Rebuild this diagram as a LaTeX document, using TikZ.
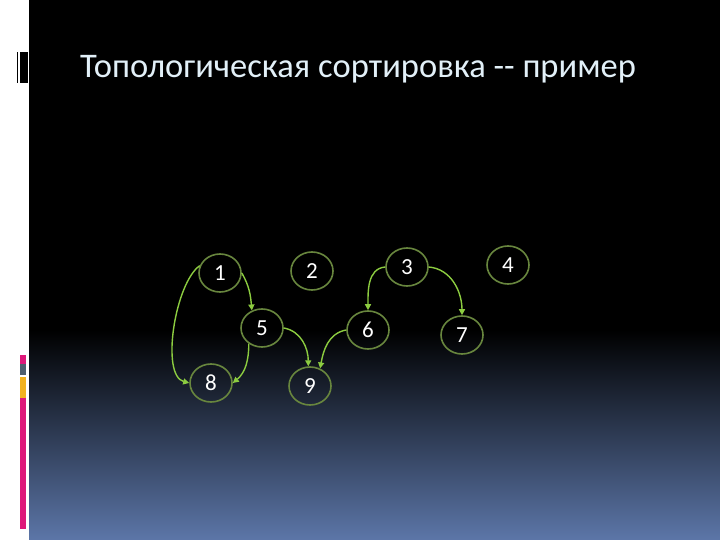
\documentclass[tikz,border=0pt]{standalone}
\usepackage{fontspec}
\setmainfont{Carlito}
\usepackage{xcolor}
\usepackage{tikz}
\usetikzlibrary{arrows.meta,shapes.geometric}

\definecolor{slideblue}{RGB}{92,118,168}
\definecolor{titlecol}{RGB}{226,240,248}
\definecolor{ringgreen}{RGB}{104,134,62}
\definecolor{edgegreen}{RGB}{140,204,64}
\definecolor{barpink}{RGB}{222,24,122}
\definecolor{bargray}{RGB}{78,94,110}
\definecolor{baryellow}{RGB}{242,178,30}

\begin{document}
\begin{tikzpicture}[x=1pt,y=1pt,
    vertex/.style={ellipse,draw=ringgreen,line width=1.6pt,text=white,
                   minimum width=42pt,minimum height=38pt,inner sep=0pt,
                   font=\fontsize{23}{23}\selectfont},
    edge/.style={-{Triangle[length=6pt,width=6pt]},edgegreen,line width=1.4pt}]
    % Slide background
    \useasboundingbox (0,0) rectangle (720,-540);
    \fill[white] (0,0) rectangle (720,-540);
    \fill[black] (29,0) rectangle (720,-330);
    \shade[top color=black,bottom color=slideblue] (29,-330) rectangle (720,-540);

    % Left side marks
    \fill[black] (17,-52) rectangle (18.3,-83);
    \fill[black] (19.7,-52) rectangle (28,-83);
    \fill[barpink] (19.5,-355) rectangle (26,-364);
    \fill[bargray] (19.5,-364) rectangle (26,-375);
    \fill[baryellow] (19.5,-377) rectangle (26,-398);
    \fill[barpink] (19.5,-398) rectangle (26,-529);

    % Title
    \node[anchor=base west,text=titlecol,font=\fontsize{34.5}{34.5}\selectfont,inner sep=0pt]
        (title) at (80,-78) {Топологическая сортировка -{}- пример};

    % Vertices
    \node[vertex] (v1) at (220,-273) {1};
    \node[vertex] (v2) at (312,-271) {2};
    \node[vertex] (v3) at (407,-267) {3};
    \node[vertex] (v4) at (508,-265) {4};
    \node[vertex] (v5) at (262,-328) {5};
    \node[vertex] (v6) at (368,-330) {6};
    \node[vertex] (v7) at (462,-335) {7};
    \node[vertex] (v8) at (211,-383) {8};
    \node[vertex] (v9) at (310,-386) {9};

    % Edges
    \draw[edge] (v1.160) to[out=215,in=165,looseness=0.65] (v8.west);
    \draw[edge] (v1.east) to[out=-60,in=95] (v5.120);
    \draw[edge] (v5.230) to[out=-90,in=40] (v8.east);
    \draw[edge] (v5.east) to[out=-10,in=90] (v9.95);
    \draw[edge] (v6.west) to[out=190,in=80] (v9.60);
    \draw[edge] (v3.west) to[out=185,in=90] (v6.north);
    \draw[edge] (v3.east) to[out=-5,in=90] (v7.north);
\end{tikzpicture}
\end{document}
